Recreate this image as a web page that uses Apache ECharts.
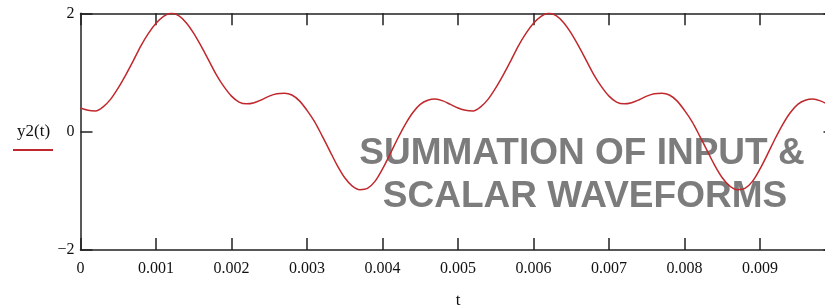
<!DOCTYPE html>
<html>
<head>
<meta charset="utf-8">
<script src="https://cdn.jsdelivr.net/npm/echarts@6/dist/echarts.min.js"></script>
<style>
  html, body { margin: 0; padding: 0; background: #fff; }
  #main { width: 825px; height: 308px; }
</style>
</head>
<body>
<div id="main"></div>
<script>
// y2(t) every 0.0001 s, from t = 0 to t = 0.01
var tStep = 0.0001;
var y2Values = [
  0.40, 0.36, 0.35, 0.42, 0.55, 0.74, 0.96, 1.20, 1.45, 1.66,
  1.83, 1.95, 2.00, 1.96, 1.84, 1.66, 1.44, 1.20, 0.96, 0.76,
  0.60, 0.50, 0.47, 0.49, 0.54, 0.60, 0.64, 0.65, 0.62, 0.52,
  0.36, 0.17, -0.07, -0.32, -0.57, -0.78, -0.92, -0.98, -0.96, -0.84,
  -0.63, -0.38, -0.12, 0.12, 0.32, 0.46, 0.53, 0.55, 0.52, 0.46,
  0.40, 0.36, 0.35, 0.42, 0.55, 0.74, 0.96, 1.20, 1.45, 1.66,
  1.83, 1.95, 2.00, 1.96, 1.84, 1.66, 1.44, 1.20, 0.96, 0.76,
  0.60, 0.50, 0.47, 0.49, 0.54, 0.60, 0.64, 0.65, 0.62, 0.52,
  0.36, 0.17, -0.07, -0.32, -0.57, -0.78, -0.92, -0.98, -0.96, -0.84,
  -0.63, -0.38, -0.12, 0.12, 0.32, 0.46, 0.53, 0.55, 0.52, 0.46,
  0.40
];
var xTicks = ['0', '0.001', '0.002', '0.003', '0.004', '0.005', '0.006', '0.007', '0.008', '0.009'];
var yTicks = [-2, 0, 2];

var font = 'Liberation Serif';
var axisColor = '#222';

var points = y2Values.map(function (y, i) { return [+(i * tStep).toFixed(5), y]; });

var chart = echarts.init(document.getElementById('main'));

var tickStyle = { show: true, inside: true, length: 12, lineStyle: { color: axisColor, width: 1.5 } };
var lineStyle = { color: axisColor, width: 1.5 };

var option = {
  animation: false,
  grid: { left: 80.5, right: -10.5, top: 13.3, bottom: 58, containLabel: false, outerBoundsMode: 'none' },
  xAxis: [
    {
      type: 'value', min: 0, max: 0.01, interval: 0.001,
      name: 't', nameLocation: 'middle', nameGap: 42,
      nameTextStyle: { fontFamily: font, fontSize: 17, color: '#111' },
      axisLine: { show: true, onZero: false, lineStyle: lineStyle },
      axisTick: tickStyle,
      axisLabel: {
        fontFamily: font, fontSize: 16, color: '#111', margin: 11,
        formatter: function (v) {
          var i = Math.round(v / 0.001);
          return i < xTicks.length ? xTicks[i] : '';
        }
      },
      splitLine: { show: false }
    },
    {
      type: 'value', position: 'top', min: 0, max: 0.01, interval: 0.001,
      axisLine: { show: true, onZero: false, lineStyle: lineStyle },
      axisTick: tickStyle,
      axisLabel: { show: false },
      splitLine: { show: false }
    }
  ],
  yAxis: [
    {
      type: 'value', min: yTicks[0], max: yTicks[2], interval: 2,
      axisLine: { show: true, onZero: false, lineStyle: lineStyle },
      axisTick: tickStyle,
      axisLabel: {
        fontFamily: font, fontSize: 16, color: '#111', margin: 6,
        formatter: function (v) { return v < 0 ? '\u2212' + Math.abs(v) : String(v); }
      },
      splitLine: { show: false }
    },
    {
      type: 'value', position: 'right', min: yTicks[0], max: yTicks[2], interval: 2,
      axisLine: { show: true, onZero: false, lineStyle: lineStyle },
      axisTick: tickStyle,
      axisLabel: { show: false },
      splitLine: { show: false }
    }
  ],
  series: [
    {
      name: 'y2(t)',
      type: 'line',
      data: points,
      smooth: 0.3,
      showSymbol: false,
      z: 3,
      lineStyle: { color: '#c0282d', width: 1.5 }
    }
  ],
  graphic: [
    // legend, Mathcad style: name with the line beneath it
    { type: 'text', left: 17, top: 123, z: 5,
      style: { text: 'y2(t)', fontFamily: font, fontSize: 17, fill: '#111' } },
    { type: 'line', z: 5, shape: { x1: 13, y1: 150, x2: 53, y2: 150 },
      style: { stroke: '#c0282d', lineWidth: 2 } },
    // caption overlaid on the plot
    { type: 'text', z: 1, x: 582, y: 154,
      style: { text: 'SUMMATION OF INPUT &', fontFamily: 'Liberation Sans', fontWeight: 'bold',
        fontSize: 37, fill: 'rgba(110,110,110,0.9)', align: 'center', verticalAlign: 'middle' } },
    { type: 'text', z: 1, x: 585, y: 197,
      style: { text: 'SCALAR WAVEFORMS', fontFamily: 'Liberation Sans', fontWeight: 'bold',
        fontSize: 37, fill: 'rgba(110,110,110,0.9)', align: 'center', verticalAlign: 'middle' } }
  ]
};

chart.setOption(option);
</script>
</body>
</html>
